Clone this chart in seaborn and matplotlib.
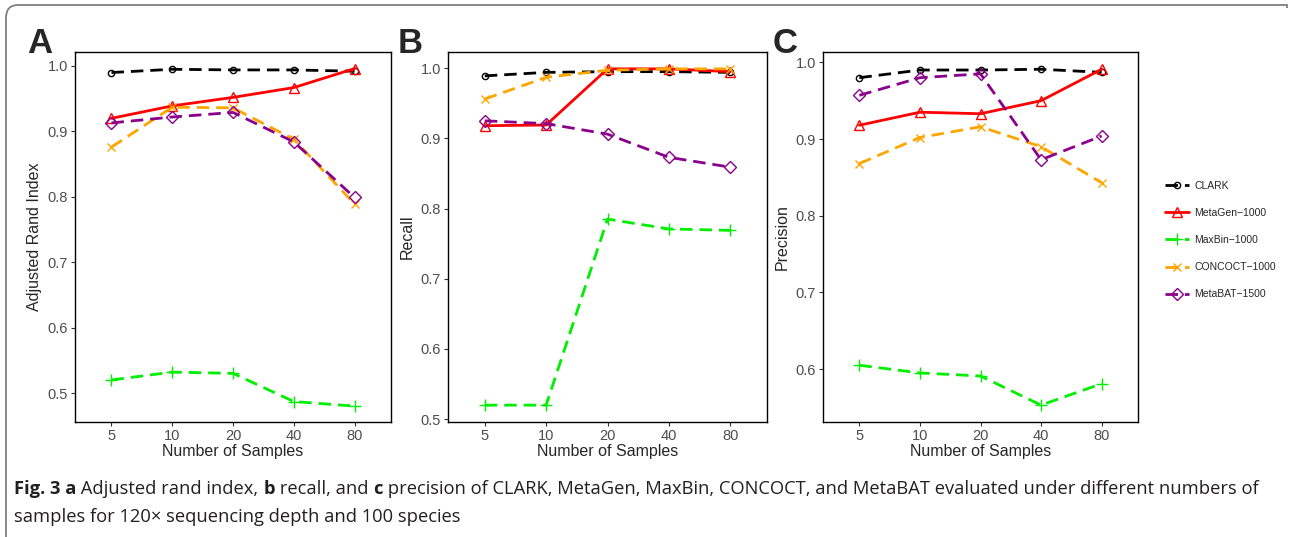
import matplotlib
matplotlib.use("Agg")
import matplotlib.pyplot as plt
from matplotlib import font_manager
from matplotlib.path import Path
from matplotlib.patches import PathPatch
import pandas as pd
import seaborn as sns

# data
samples = ["5", "10", "20", "40", "80"]
methods = ["CLARK", "MetaGen\u22121000", "MaxBin\u22121000", "CONCOCT\u22121000", "MetaBAT\u22121500"]

ari_clark = [0.990, 0.995, 0.994, 0.994, 0.992]
ari_metagen = [0.920, 0.939, 0.952, 0.967, 0.996]
ari_maxbin = [0.520, 0.532, 0.530, 0.487, 0.480]
ari_concoct = [0.876, 0.937, 0.936, 0.888, 0.789]
ari_metabat = [0.913, 0.922, 0.929, 0.884, 0.799]

recall_clark = [0.989, 0.994, 0.995, 0.995, 0.994]
recall_metagen = [0.918, 0.919, 0.999, 0.999, 0.995]
recall_maxbin = [0.520, 0.520, 0.785, 0.771, 0.769]
recall_concoct = [0.956, 0.987, 0.997, 0.999, 0.999]
recall_metabat = [0.925, 0.921, 0.906, 0.873, 0.859]

prec_clark = [0.980, 0.990, 0.990, 0.991, 0.987]
prec_metagen = [0.918, 0.935, 0.933, 0.950, 0.991]
prec_maxbin = [0.605, 0.595, 0.591, 0.553, 0.581]
prec_concoct = [0.868, 0.902, 0.916, 0.890, 0.843]
prec_metabat = [0.957, 0.980, 0.985, 0.873, 0.904]

colors = ["#000000", "#FF0000", "#00EE00", "#FFA500", "#8B008B"]
marker_list = ["o", "^", "+", "x", "D"]
marker_sizes = [4.5, 7, 8.5, 6, 6]
dash = (4.5, 2.5)
dash_list = [dash, "", dash, dash, dash]


def make_frame(series):
    rows = []
    for name, vals in zip(methods, series):
        for s, v in zip(samples, vals):
            rows.append({"samples": s, "method": name, "value": v})
    return pd.DataFrame(rows)


panels = [
    ("A", "Adjusted Rand Index", [ari_clark, ari_metagen, ari_maxbin, ari_concoct, ari_metabat],
     (0.4557, 1.0214), [0.5, 0.6, 0.7, 0.8, 0.9, 1.0]),
    ("B", "Recall", [recall_clark, recall_metagen, recall_maxbin, recall_concoct, recall_metabat],
     (0.496, 1.023), [0.5, 0.6, 0.7, 0.8, 0.9, 1.0]),
    ("C", "Precision", [prec_clark, prec_metagen, prec_maxbin, prec_concoct, prec_metabat],
     (0.531, 1.0135), [0.6, 0.7, 0.8, 0.9, 1.0]),
]

sns.set_style("white")
plt.rcParams["font.family"] = ["Liberation Sans", "DejaVu Sans"]

W, H = 1289, 537
fig = plt.figure(figsize=(W / 100, H / 100), dpi=100)

# axes boxes in pixels: left, right (top 52, bottom 422)
boxes = [(75, 391), (448, 767), (823, 1138)]
letter_x = [27, 398, 773]

palette = dict(zip(methods, colors))
dashes = dict(zip(methods, dash_list))

axes = []
for (letter, ylabel, series, ylim, yticks), (l, r), lx in zip(panels, boxes, letter_x):
    ax = fig.add_axes([l / W, 1 - 422 / H, (r - l) / W, 370 / H])
    df = make_frame(series)
    sns.lineplot(data=df, x="samples", y="value", hue="method", style="method",
                 palette=palette, markers=False, dashes=dashes, errorbar=None,
                 linewidth=2.0, legend=False, ax=ax)
    # seaborn won't mix open and filled markers, so set them on the lines
    for line, c, m, ms in zip(ax.lines, colors, marker_list, marker_sizes):
        line.set_marker(m)
        line.set_markerfacecolor("none")
        line.set_markeredgecolor(c)
        line.set_markeredgewidth(1.0)
        line.set_markersize(ms)
    ax.set_xlim(-0.6, 4.6)
    ax.set_ylim(*ylim)
    ax.set_yticks(yticks)
    ax.set_yticklabels([f"{t:.1f}" for t in yticks])
    ax.set_xlabel("Number of Samples", fontsize=11.5, labelpad=1)
    ax.set_ylabel(ylabel, fontsize=11.5, labelpad=4)
    ax.tick_params(axis="both", length=3, width=0.8, color="#333333",
                   labelcolor="#4D4D4D", labelsize=10.5, pad=2, bottom=True, left=True)
    for sp in ax.spines.values():
        sp.set_color("black")
        sp.set_linewidth(1.0)
    fig.text(lx / W, 1 - 53 / H, letter, fontsize=25, fontweight="heavy",
             va="baseline", ha="left")
    axes.append(ax)

leg = fig.legend(handles=axes[0].lines[:5], labels=methods, loc="center left",
                 bbox_to_anchor=(1156 / W, 1 - 240 / H), frameon=False,
                 fontsize=7.5, handlelength=2.3, handletextpad=0.5, labelspacing=1.65)

# rounded frame around the figure
verts = [(6, 0), (6, H - 18), (6, H - 5), (18, H - 5), (W - 2, H - 5), (W - 2, H - 8)]
codes = [Path.MOVETO, Path.LINETO, Path.CURVE3, Path.CURVE3, Path.LINETO, Path.LINETO]
frame = PathPatch(Path([(x / W, y / H) for x, y in verts], codes), transform=fig.transFigure,
                  facecolor="none", edgecolor="#7f7f7f", lw=1.3)
fig.add_artist(frame)

# caption with mixed bold/regular pieces
cap_font = "Open Sans"
for cand in ["Liberation Sans Narrow", "Open Sans"]:
    try:
        font_manager.findfont(cand, fallback_to_default=False)
        cap_font = cand
        break
    except ValueError:
        pass

cap_size = 13.2
line1 = [("Fig. 3 a", "bold"), (" Adjusted rand index, ", "normal"), ("b", "bold"),
         (" recall, and ", "normal"), ("c", "bold"),
         (" precision of CLARK, MetaGen, MaxBin, CONCOCT, and MetaBAT evaluated under different numbers of",
          "normal")]
line2 = [("samples for 120\u00d7 sequencing depth and 100 species", "normal")]

renderer = fig.canvas.get_renderer()
for pieces, base in [(line1, 494), (line2, 522)]:
    x = 14
    for txt, wt in pieces:
        t = fig.text(x / W, 1 - base / H, txt, fontsize=cap_size, fontweight=wt,
                     family=[cap_font, "DejaVu Sans"], va="baseline", ha="left", color="#231f20")
        bb = t.get_window_extent(renderer=renderer)
        x += bb.width

fig.savefig("out.png", dpi=100)
